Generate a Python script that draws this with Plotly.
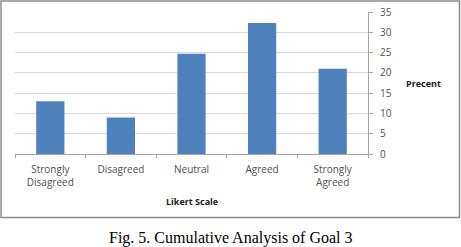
import plotly.graph_objects as go

categories = ["Strongly<br>Disagreed", "Disagreed", "Neutral", "Agreed", "Strongly<br>Agreed"]
percent = [13.0, 9.0, 24.7, 32.3, 21.0]
y_ticks = [0, 5, 10, 15, 20, 25, 30, 35]

W, H = 461, 247
L, R, T, B = 15, 93, 12, 93
pw, ph = W - L - R, H - T - B

def px_x(p):
    return (p - L) / pw

def px_y(p):
    return (H - B - p) / ph

font = "Open Sans, DejaVu Sans, sans-serif"

fig = go.Figure(go.Bar(x=categories, y=percent, marker_color="#4f81bd", marker_line_width=0))

fig.update_layout(
    width=W, height=H,
    margin=dict(l=L, r=R, t=T, b=B, pad=0),
    paper_bgcolor="white", plot_bgcolor="white",
    bargap=0.6,
    showlegend=False,
    font=dict(family=font, size=10, color="#505050"),
    xaxis=dict(
        automargin=False,
        showline=True, linecolor="#a6a6a6", linewidth=1,
        ticks="outside", tickson="boundaries", ticklen=3, tickcolor="#a6a6a6",
        ticklabelstandoff=6,
        tickfont=dict(size=10, color="#505050"),
        showgrid=False,
    ),
    yaxis=dict(
        automargin=False,
        side="right", range=[0, 35], tickvals=y_ticks,
        showline=True, linecolor="#a6a6a6", linewidth=1,
        ticks="outside", ticklen=4, tickcolor="#a6a6a6",
        ticklabelstandoff=5,
        showgrid=True, gridcolor="#d9d9d9", gridwidth=1,
        tickfont=dict(size=10, color="#505050"),
        zeroline=False,
    ),
    shapes=[dict(
        type="rect", xref="paper", yref="paper",
        x0=px_x(1), x1=px_x(459.5), y0=px_y(217.5), y1=px_y(1),
        line=dict(color="#8c8c8c", width=1.5), fillcolor="rgba(0,0,0,0)",
    )],
    annotations=[
        dict(text="<b>Precent</b>", xref="paper", yref="paper",
             x=px_x(424), y=px_y(83), showarrow=False, xanchor="center", yanchor="middle",
             font=dict(size=9, color="#202020", family=font)),
        dict(text="<b>Likert Scale</b>", xref="paper", yref="paper",
             x=px_x(192), y=px_y(201), showarrow=False, xanchor="center", yanchor="middle",
             font=dict(size=9, color="#202020", family=font)),
        dict(text="Fig. 5. Cumulative Analysis of Goal 3", xref="paper", yref="paper",
             x=px_x(231), y=px_y(238), showarrow=False, xanchor="center", yanchor="middle",
             font=dict(size=16, color="black", family="Liberation Serif, Times New Roman, serif")),
    ],
)

fig.write_html("out.html", config={"displayModeBar": False},
               post_script="document.body.style.margin='0';document.body.style.overflow='hidden';")
